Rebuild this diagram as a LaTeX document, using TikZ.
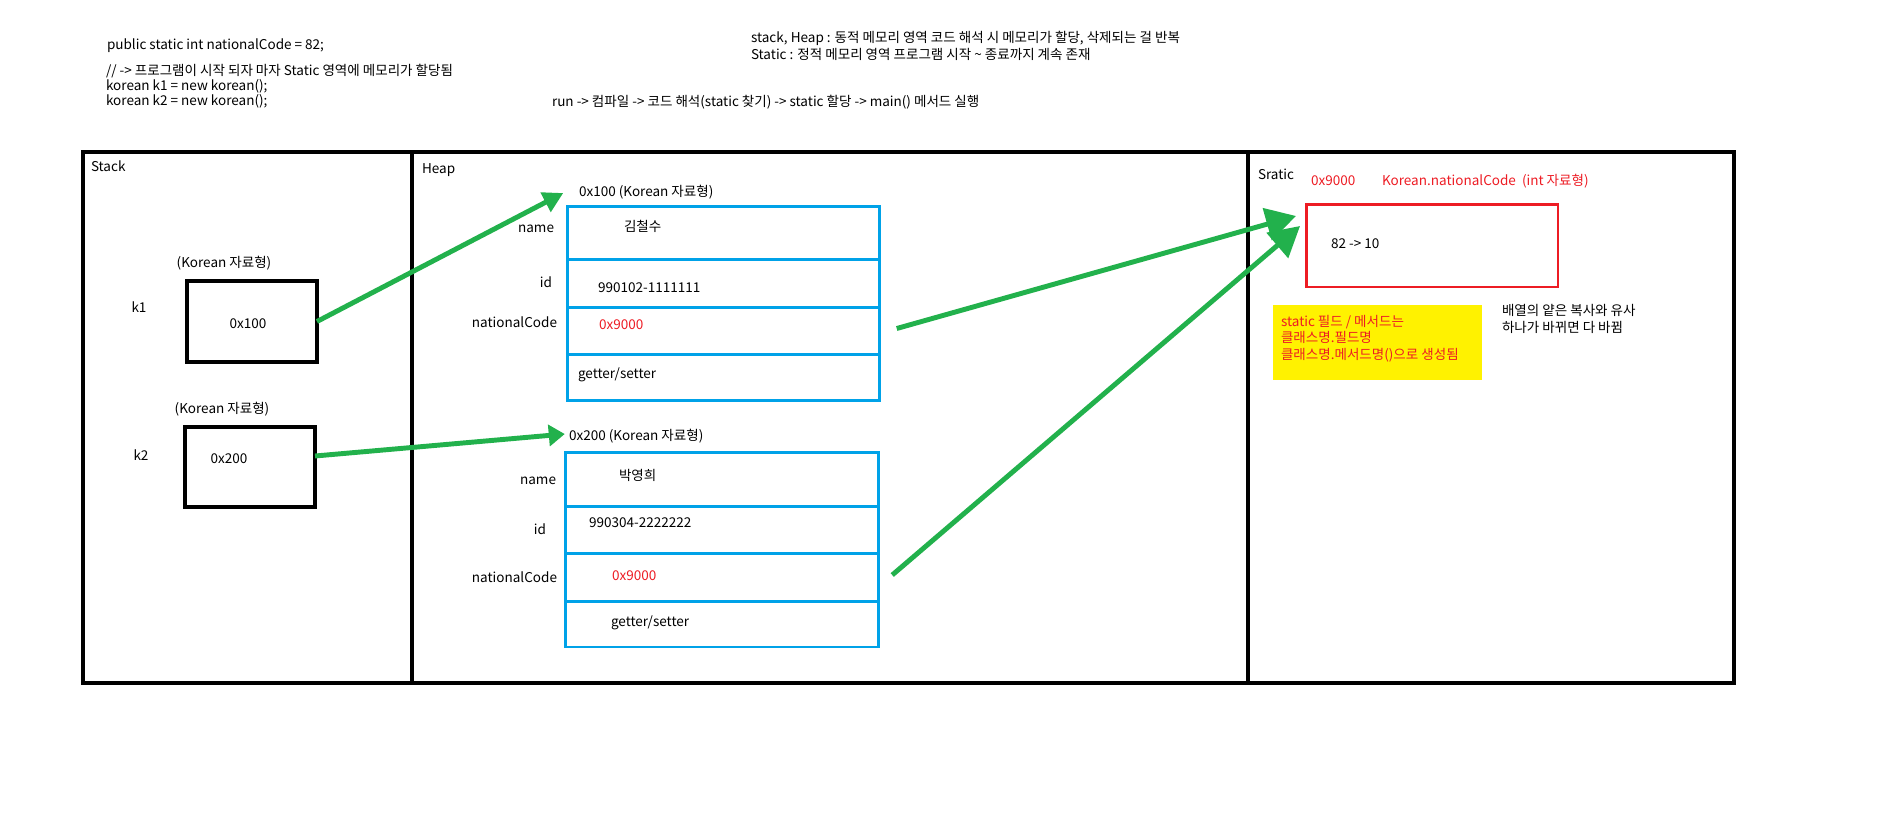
\documentclass[tikz,border=0pt]{standalone}
\usepackage{fontspec}
\setmainfont{Noto Sans CJK KR}
\usetikzlibrary{arrows.meta}

\begin{document}
\begin{tikzpicture}[x=0.02cm, y=-0.02cm, inner sep=0pt, outer sep=0pt]

    % style
    \tikzset{font=\fontsize{7.7}{9.2}\selectfont};
    \definecolor{mygreen}{RGB}{34, 177, 76}
    \definecolor{myblue}{RGB}{0, 162, 232}
    \definecolor{myred}{RGB}{237, 28, 36}
    \definecolor{myyellow}{RGB}{255, 242, 0}
    \tikzset{
        txt/.style={anchor=west, text height=0.75em, text depth=0.2em},
        rtxt/.style={anchor=east, text height=0.75em, text depth=0.2em},
        redtxt/.style={txt, text=myred},
        frame/.style={draw=black, line width=2.3pt},
        refbox/.style={rectangle, draw=black, line width=1.9pt},
        objbox/.style={rectangle, draw=myblue, line width=1.7pt, minimum width=6.25cm, minimum height=3.9cm},
        objline/.style={draw=myblue, line width=1.7pt},
        ptr/.style={draw=mygreen, line width=2.8pt}
    }

    % page size
    \useasboundingbox (0,0) rectangle (1899,836);

    % notes at the top
    \node[txt] (codeA) at (107,45) {public static int nationalCode = 82;};
    \node[txt] (codeB) at (106,71) {// -> 프로그램이 시작 되자 마자 Static 영역에 메모리가 할당됨};
    \node[txt] (codeC) at (106,86) {korean k1 = new korean();};
    \node[txt] (codeD) at (106,101) {korean k2 = new korean();};
    \node[txt] (noteA) at (751,38) {stack, Heap : 동적 메모리 영역 코드 해석 시 메모리가 할당, 삭제되는 걸 반복};
    \node[txt] (noteB) at (751,55) {Static : 정적 메모리 영역 프로그램 시작 \textasciitilde{} 종료까지 계속 존재};
    \node[txt] (runNote) at (552,102) {run -> 컴파일 -> 코드 해석(static 찾기) -> static 할당 -> main() 메서드 실행};

    % memory frame: stack | heap | static
    \draw[frame] (83,152) rectangle (1734,683);
    \draw[frame] (412,152) -- (412,683);
    \draw[frame] (1248,152) -- (1248,683);
    \node[txt] (stackLbl) at (91,167) {Stack};
    \node[txt] (heapLbl) at (422,169) {Heap};
    \node[txt] (staticLbl) at (1258,175) {Sratic};

    % Stack: reference variables
    \node (k1type) at (224,263) {(Korean 자료형)};
    \node[refbox, minimum width=2.6cm, minimum height=1.62cm] (k1box) at (252,321.5) {};
    \node (k1name) at (139,307) {k1};
    \node (k1val) at (248,324) {0x100};
    \node (k2type) at (222,409) {(Korean 자료형)};
    \node[refbox, minimum width=2.6cm, minimum height=1.6cm] (k2box) at (250,467) {};
    \node (k2name) at (141,455) {k2};
    \node (k2val) at (229,459) {0x200};

    % Heap: two Korean objects
    \node[objbox] (obj1) at (723.5,303.5) {};
    \node[objbox] (obj2) at (722,549.5) {};
    \foreach \o/\dy in {obj1/53, obj1/101, obj1/148, obj2/54, obj2/101, obj2/149}
        \draw[objline] ([shift={(0,\dy)}]\o.north west) -- ([shift={(0,\dy)}]\o.north east);

    \node[txt] (obj1title) at (579,192) {0x100 (Korean 자료형)};
    \node[rtxt] (o1nameLbl) at (554,228) {name};
    \node[txt] (o1name) at (624,227) {김철수};
    \node[rtxt] (o1idLbl) at (552,283) {id};
    \node[txt] (o1id) at (598,288) {990102-1111111};
    \node[rtxt] (o1ncLbl) at (557,323) {nationalCode};
    \node[redtxt] (o1nc) at (599,325) {0x9000};
    \node[txt] (o1gs) at (578,374) {getter/setter};

    \node[txt] (obj2title) at (569,436) {0x200 (Korean 자료형)};
    \node[rtxt] (o2nameLbl) at (556,480) {name};
    \node[txt] (o2name) at (619,476) {박영희};
    \node[rtxt] (o2idLbl) at (546,530) {id};
    \node[txt] (o2id) at (589,523) {990304-2222222};
    \node[rtxt] (o2ncLbl) at (557,578) {nationalCode};
    \node[redtxt] (o2nc) at (612,576) {0x9000};
    \node[txt] (o2gs) at (611,622) {getter/setter};

    % Static: the shared field
    \node[redtxt] (statAddr) at (1311,181) {0x9000};
    \node[redtxt] (statName) at (1382,181) {Korean.nationalCode\ \ (int 자료형)};
    \node[rectangle, draw=myred, line width=1.7pt, minimum width=5.04cm, minimum height=1.66cm] (statBox) at (1432,245.5) {};
    \node[txt] (statVal) at (1331,244) {82 -> 10};
    \node[rectangle, fill=myyellow, minimum width=4.18cm, minimum height=1.5cm] (memo) at (1377.5,342.5) {};
    \node[anchor=west, align=left, text=myred, font=\fontsize{7.7}{9.4}\selectfont] (memoTxt) at (1281,338.5) {static 필드 / 메서드는\\클래스명.필드명\\클래스명.메서드명()으로 생성됨};
    \node[anchor=west, align=left] (copyNote) at (1502,319) {배열의 얕은 복사와 유사\\하나가 바뀌면 다 바뀜};

    % arrow end points
    \coordinate (tip1) at ([shift={(-4,-13)}]obj1.north west);
    \coordinate (tip2) at ([shift={(-1,-18)}]obj2.north west);
    \coordinate (tip3) at ([shift={(-10,12)}]statBox.north west);
    \coordinate (tip4) at ([shift={(-6,22)}]statBox.north west);

    % green pointers
    \draw[ptr, -{Triangle[length=0.4cm, width=0.42cm]}] (k1box.east) -- (tip1);
    \draw[ptr, -{Triangle[length=0.32cm, width=0.42cm]}] ([shift={(0,-11)}]k2box.east) -- (tip2);
    \draw[ptr, -{Triangle[length=0.6cm, width=0.65cm]}] ([shift={(17,25)}]obj1.east) -- (tip3);
    \draw[ptr, -{Triangle[length=0.6cm, width=0.65cm]}] ([shift={(14,25.5)}]obj2.east) -- (tip4);

\end{tikzpicture}
\end{document}
